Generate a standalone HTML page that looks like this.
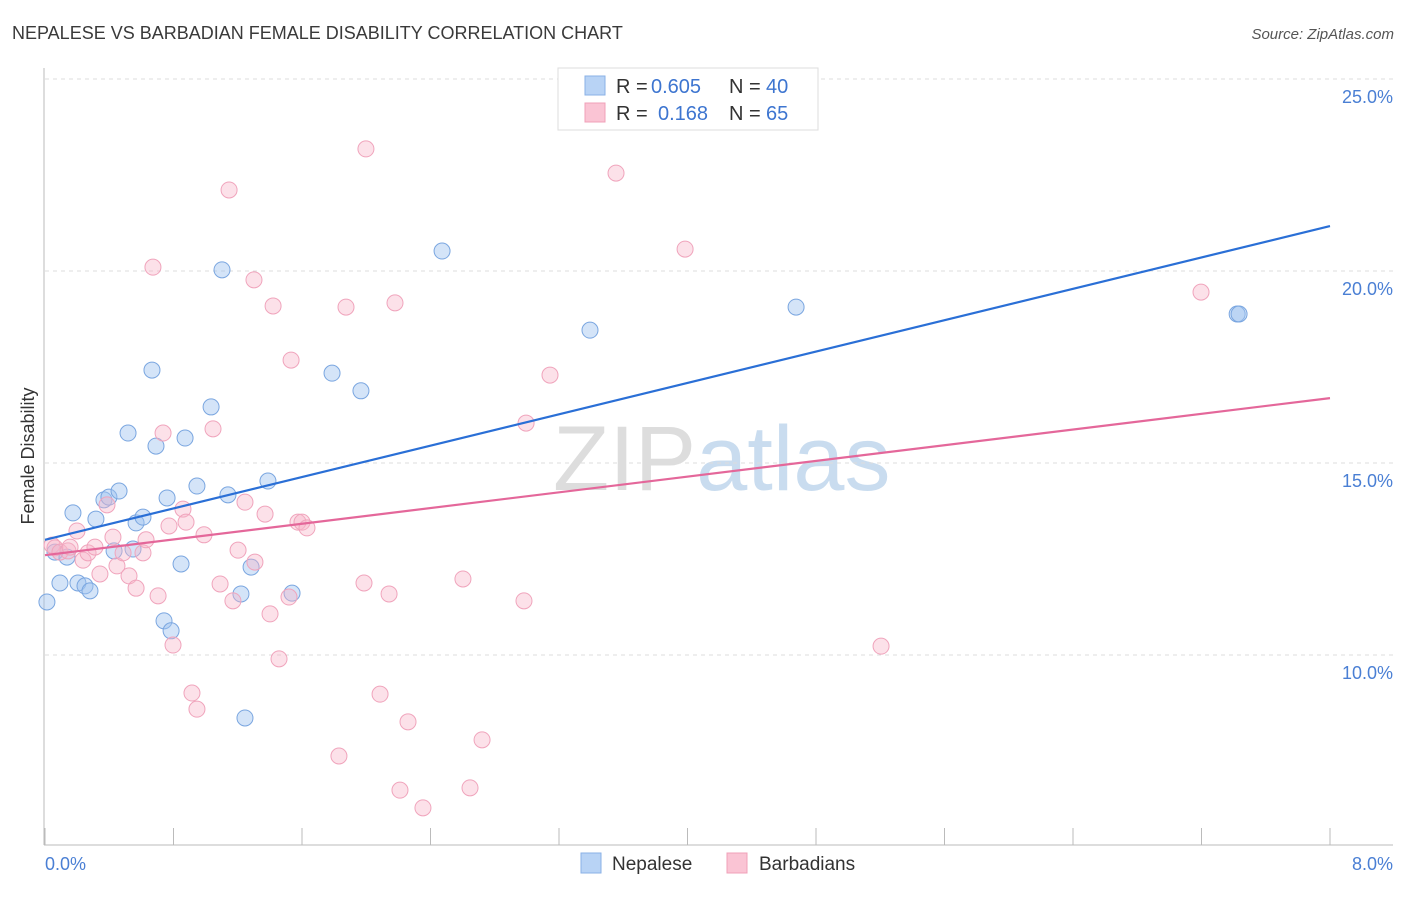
<!DOCTYPE html>
<html><head><meta charset="utf-8"><style>
body{margin:0;background:#fff;font-family:"Liberation Sans",sans-serif}
svg text{font-family:"Liberation Sans",sans-serif}
</style></head><body>
<svg id="chart" width="1406" height="892" xmlns="http://www.w3.org/2000/svg">
<text x="12" y="39" font-size="18" fill="#3a3a3a">NEPALESE VS BARBADIAN FEMALE DISABILITY CORRELATION CHART</text>
<text x="1394" y="39" font-size="15" fill="#555" font-style="italic" text-anchor="end">Source: ZipAtlas.com</text>
<text x="553" y="490" font-size="92" fill="#ddd" font-family="Liberation Serif">ZIP<tspan fill="#c9dcef" font-family="Liberation Sans">atlas</tspan></text>
<g id="grid"></g>
<line x1="44" y1="68" x2="44" y2="845" stroke="#bbb"/>
<line x1="44" y1="845" x2="1393" y2="845" stroke="#bbb"/>
<g id="ticks"></g>
<text transform="translate(34,456) rotate(-90)" font-size="18" fill="#333" text-anchor="middle">Female Disability</text>
<text x="45" y="870" font-size="18" fill="#4a7fd4">0.0%</text>
<text x="1393" y="870" font-size="18" fill="#4a7fd4" text-anchor="end">8.0%</text>
<g id="points"></g>
<g id="lines"></g>
<g>
<rect x="558" y="68" width="260" height="62" fill="#fff" stroke="#ddd"/>
<rect x="585" y="76" width="20" height="19" fill="#b8d3f5" stroke="#8ab0e6"/>
<rect x="585" y="103" width="20" height="19" fill="#fac4d4" stroke="#f0a0b8"/>
<text x="616" y="93" font-size="20" fill="#333">R =</text>
<text x="651" y="93" font-size="20" fill="#3d75d0">0.605</text>
<text x="729" y="93" font-size="20" fill="#333">N =</text>
<text x="766" y="93" font-size="20" fill="#3d75d0">40</text>
<text x="616" y="120" font-size="20" fill="#333">R =</text>
<text x="658" y="120" font-size="20" fill="#3d75d0">0.168</text>
<text x="729" y="120" font-size="20" fill="#333">N =</text>
<text x="766" y="120" font-size="20" fill="#3d75d0">65</text>
</g>
<g>
<rect x="581" y="853" width="20" height="20" fill="#b8d3f5" stroke="#8ab0e6"/>
<text x="612" y="870" font-size="19" fill="#333">Nepalese</text>
<rect x="727" y="853" width="20" height="20" fill="#fac4d4" stroke="#f0a0b8"/>
<text x="759" y="870" font-size="19" fill="#333">Barbadians</text>
</g>
</svg>
<script>
const yTicks=[10,15,20,25];
const xTickCount=10;
const nepX=[0.012,0.062,0.093,0.137,0.174,0.205,0.249,0.280,0.317,0.367,0.398,0.461,0.430,0.517,0.567,0.548,0.610,0.666,0.691,0.741,0.760,0.785,0.847,0.872,0.946,1.034,1.102,1.139,1.220,1.245,1.283,1.388,1.538,1.787,1.967,2.472,3.393,4.676,7.422,7.434];
const nepY=[11.38,12.68,11.875,12.55,13.70,11.875,11.80,11.67,13.54,14.04,14.11,14.27,12.71,15.78,13.44,12.76,13.59,17.42,15.44,10.89,14.09,10.63,12.37,15.65,14.40,16.46,20.03,14.17,11.59,8.36,12.29,14.53,11.61,17.34,16.88,20.52,18.46,19.06,18.88,18.88];
const barX=[0.044,0.062,0.093,0.143,0.156,0.199,0.237,0.268,0.311,0.342,0.386,0.423,0.448,0.486,0.523,0.567,0.610,0.629,0.672,0.704,0.735,0.772,0.797,0.859,0.878,0.915,0.946,0.990,1.046,1.090,1.146,1.170,1.202,1.245,1.301,1.307,1.370,1.401,1.420,1.457,1.519,1.532,1.575,1.600,1.631,1.830,1.874,1.986,1.998,2.086,2.142,2.179,2.210,2.260,2.353,2.602,2.646,2.721,2.982,2.995,3.144,3.555,3.985,5.205,7.197];
const barY=[12.86,12.79,12.68,12.71,12.81,13.23,12.47,12.66,12.81,12.11,13.91,13.07,12.32,12.66,12.06,11.74,12.66,13.00,20.10,11.54,15.78,13.36,10.26,13.80,13.46,9.01,8.59,13.13,15.89,11.85,22.11,11.41,12.73,13.98,19.77,12.42,13.67,11.07,19.09,9.90,11.51,17.68,13.46,13.46,13.31,7.37,19.06,11.875,23.18,8.98,11.59,19.17,6.48,8.26,6.02,11.98,6.54,7.79,11.41,16.04,17.29,22.55,20.57,10.23,19.45];
const nepTrend=[13.0,21.17];
const barTrend=[12.6,16.69];
const NS='http://www.w3.org/2000/svg';
const sx=v=>45+v/8*1285;
const sy=v=>79+(25-v)*38.4;
function mk(tag,attrs,parent){const e=document.createElementNS(NS,tag);for(const k in attrs)e.setAttribute(k,attrs[k]);document.getElementById(parent).appendChild(e);return e;}
yTicks.forEach(t=>{
 const l=mk('line',{x1:45,x2:1393,y1:sy(t),y2:sy(t),stroke:'#ddd','stroke-dasharray':'4,4'},'grid');
 
 
 const tx=mk('text',{x:1393,y:sy(t)+24,'font-size':18,fill:'#4a7fd4','text-anchor':'end'},'grid');
 tx.textContent=t.toFixed(1)+'%';
 
 
});
for(let i=0;i<=xTickCount;i++){
 const l=mk('line',{x1:sx(i*0.8),x2:sx(i*0.8),y1:828,y2:845,stroke:'#bbb'},'ticks');
 
 
}
nepX.forEach((x,i)=>{
 const c=mk('circle',{cx:sx(x),cy:sy(nepY[i]),r:8,fill:'rgba(160,196,240,0.45)',stroke:'#7aa6e0','stroke-width':1},'points');
 
 
});
barX.forEach((x,i)=>{
 const c=mk('circle',{cx:sx(x),cy:sy(barY[i]),r:8,fill:'rgba(248,180,200,0.4)',stroke:'#f0a4bc','stroke-width':1},'points');
 
 
});
const l1=mk('line',{x1:sx(0),y1:sy(nepTrend[0]),x2:sx(8),y2:sy(nepTrend[1]),stroke:'#2a6fd6','stroke-width':2.2},'lines');


const l2=mk('line',{x1:sx(0),y1:sy(barTrend[0]),x2:sx(8),y2:sy(barTrend[1]),stroke:'#e4679a','stroke-width':2.2},'lines');


</script>
</body></html>
